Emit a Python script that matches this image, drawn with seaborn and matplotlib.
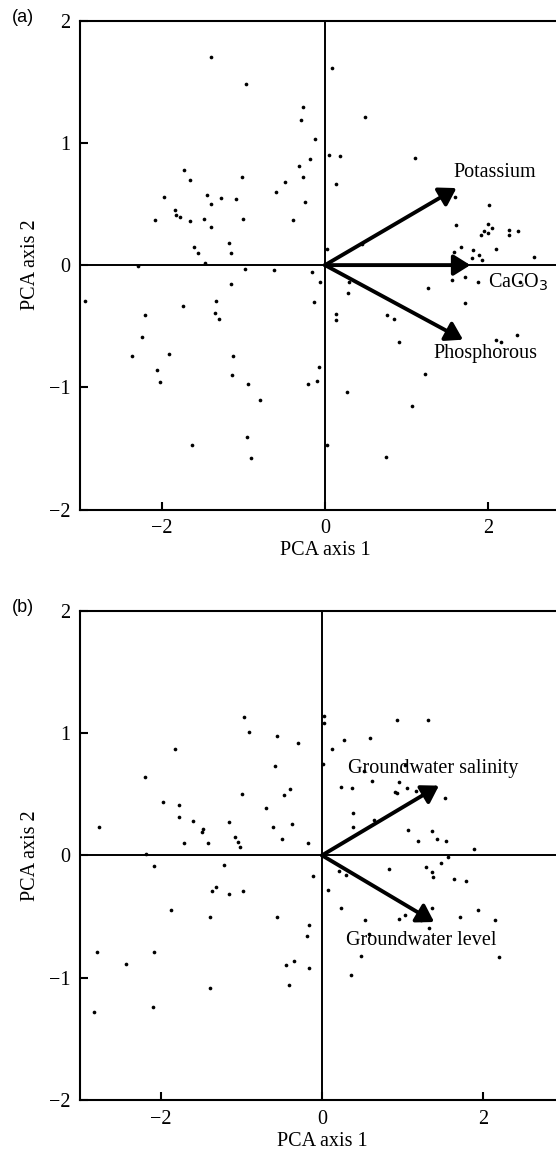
import numpy as np
import pandas as pd
import matplotlib.pyplot as plt
import seaborn as sns

# ---- panel (a): site scores and soil vectors ------------------------------
a_pc1 = [-1.40, -0.97, -0.27, -0.29, -0.12, 0.05, -0.32, -0.18, -0.27, -0.49,
         -0.60, -0.25, -0.39, -1.02, -1.09, -1.01, -1.27, -1.45, -1.40, -1.48,
         -1.40, -1.73, -1.65, -1.65, -1.78, -1.83, -1.84, -1.97, -2.08, -1.61,
         -1.56, -1.47, -1.18, -1.15, -2.29, -0.98, -0.62, -0.16, 0.02, 0.09,
         0.49, 0.18, 1.10, 0.14, 1.59, 2.01, 1.61, 1.99, 2.05, 1.95,
         1.91, 2.00, 2.25, 2.25, 2.36, 2.09, 1.67, 1.58, 1.81, 1.80,
         1.88, 1.92, 2.56, 0.45, -0.06, -0.13, 0.30, 0.28, 0.13, 0.13,
         0.76, 0.84, 0.91, 1.26, 1.55, 1.72, 1.87, 1.72, 2.39, 2.10,
         2.16, 2.35, 1.22, -0.07, -0.21, -0.10, 0.27, 1.06, 0.02, 0.75,
         -2.94, -1.74, -2.21, -2.24, -2.36, -1.91, -2.06, -2.02, -1.63, -1.34,
         -1.35, -1.30, -1.15, -1.13, -1.14, -0.94, -0.80, -0.95, -0.91]
a_pc2 = [1.70, 1.48, 1.29, 1.19, 1.03, 0.90, 0.81, 0.87, 0.72, 0.68,
         0.60, 0.52, 0.37, 0.72, 0.54, 0.38, 0.55, 0.57, 0.50, 0.38,
         0.31, 0.78, 0.70, 0.36, 0.39, 0.41, 0.45, 0.56, 0.37, 0.15,
         0.10, 0.02, 0.18, 0.10, -0.01, -0.035, -0.04, -0.06, 0.13, 1.61,
         1.21, 0.89, 0.88, 0.66, 0.56, 0.49, 0.33, 0.335, 0.30, 0.28,
         0.25, 0.26, 0.29, 0.25, 0.28, 0.13, 0.15, 0.11, 0.12, 0.06,
         0.08, 0.04, 0.065, 0.17, -0.14, -0.30, -0.14, -0.23, -0.40, -0.45,
         -0.41, -0.44, -0.63, -0.19, -0.12, -0.10, -0.14, -0.31, -0.14, -0.61,
         -0.63, -0.575, -0.89, -0.83, -0.97, -0.95, -1.04, -1.15, -1.47, -1.57,
         -0.29, -0.335, -0.41, -0.59, -0.74, -0.73, -0.86, -0.96, -1.47, -0.29,
         -0.39, -0.44, -0.155, -0.74, -0.90, -0.97, -1.10, -1.41, -1.58]
a_vec_names = ["Potassium", "CaCO$_3$", "Phosphorous"]
a_vec_x = [1.61, 1.78, 1.69]
a_vec_y = [0.63, 0.0, -0.61]
a_lab_x = [1.57, 1.99, 1.33]
a_lab_y = [0.76, -0.14, -0.72]

# ---- panel (b): site scores and groundwater vectors -----------------------
b_pc1 = [-2.77, -2.20, -1.82, -1.97, -1.77, -1.77, -1.60, -1.47, -1.49, -1.71,
         -1.41, -1.15, -1.08, -1.04, -1.02, -0.97, -0.90, -0.99, -0.56, -0.30,
         -0.58, -0.40, -0.47, -0.70, -0.61, -0.37, -0.50, -0.17, 0.02, 0.02,
         0.01, -2.18, -2.08, -1.21, 0.93, 1.31, 0.27, 0.12, 0.59, 0.52,
         1.03, 0.62, 0.24, 0.37, 0.96, 0.91, 0.93, 1.05, 1.17, 1.52,
         0.38, 0.38, 0.65, 1.06, 1.36, 1.19, 1.43, 1.54, 1.88, 1.56,
         1.47, 1.29, 0.83, 1.36, 1.38, 0.21, 0.30, -0.11, 0.08, 1.64,
         1.79, 0.24, 0.53, 0.96, 1.03, 1.25, 1.36, 1.23, 1.33, 1.71,
         1.94, 2.14, 2.19, 0.48, 0.36, 0.58, -0.16, -0.19, -0.16, -0.35,
         -0.45, -0.41, -2.79, -2.83, -2.43, -2.08, -2.09, -1.87, -1.39, -1.39,
         -1.36, -1.31, -1.15, -0.98, -0.56]
b_pc2 = [0.23, 0.64, 0.87, 0.44, 0.41, 0.31, 0.28, 0.215, 0.19, 0.10,
         0.10, 0.27, 0.15, 0.11, 0.07, 1.13, 1.01, 0.50, 0.975, 0.92,
         0.73, 0.54, 0.49, 0.39, 0.23, 0.26, 0.13, 0.10, 1.14, 1.08,
         0.75, 0.015, -0.09, -0.08, 1.11, 1.11, 0.94, 0.87, 0.96, 0.69,
         0.74, 0.61, 0.56, 0.55, 0.60, 0.52, 0.51, 0.55, 0.53, 0.47,
         0.35, 0.23, 0.29, 0.21, 0.20, 0.12, 0.13, 0.12, 0.05, -0.01,
         -0.06, -0.095, -0.11, -0.14, -0.18, -0.13, -0.16, -0.17, -0.28, -0.19,
         -0.21, -0.43, -0.53, -0.52, -0.49, -0.42, -0.43, -0.53, -0.59, -0.50,
         -0.45, -0.53, -0.83, -0.82, -0.98, -0.64, -0.57, -0.66, -0.92, -0.86,
         -0.90, -1.06, -0.79, -1.28, -0.89, -0.79, -1.24, -0.45, -0.50, -1.085,
         -0.29, -0.26, -0.32, -0.29, -0.50]
b_vec_names = ["Groundwater salinity", "Groundwater level"]
b_vec_x = [1.45, 1.39]
b_vec_y = [0.57, -0.545]
b_lab_x = [0.32, 0.30]
b_lab_y = [0.71, -0.70]

sns.set_style("ticks")
plt.rcParams["font.family"] = ["Liberation Serif", "DejaVu Serif"]
plt.rcParams["axes.unicode_minus"] = True
plt.rcParams.update({
    "text.color": "black", "axes.labelcolor": "black",
    "xtick.color": "black", "ytick.color": "black",
    "axes.edgecolor": "black",
})

W, H = 556, 1162
fig = plt.figure(figsize=(W / 100, H / 100), dpi=100)
ax_a = fig.add_axes([80 / W, 1 - 509.6 / H, 490 / W, 489 / H])
ax_b = fig.add_axes([80 / W, 1 - 1100 / H, 484 / W, 489.3 / H])


def draw_panel(ax, pc1, pc2, vx, vy, names, lx, ly, tag, tag_y):
    pts = pd.DataFrame({"PCA axis 1": pc1, "PCA axis 2": pc2})
    ax.axhline(0, color="black", lw=1.4, zorder=1)
    ax.axvline(0, color="black", lw=1.4, zorder=1)
    sns.scatterplot(data=pts, x="PCA axis 1", y="PCA axis 2", ax=ax,
                    color="black", s=7, linewidth=0, zorder=3)
    for x, y, name, tx, ty in zip(vx, vy, names, lx, ly):
        ax.annotate("", xy=(x, y), xytext=(0, 0),
                    arrowprops=dict(arrowstyle="-|>,head_length=0.4,head_width=0.25",
                                    color="black", lw=2.8,
                                    mutation_scale=25, shrinkA=0, shrinkB=0),
                    zorder=4)
        ax.text(tx, ty, name, fontsize=14.5, ha="left", va="center", zorder=5)
    ax.set_xlim(-3, 3)
    ax.set_ylim(-2, 2)
    ax.set_xticks([-2, 0, 2])
    ax.set_yticks([-2, -1, 0, 1, 2])
    ax.tick_params(direction="in", length=6, width=1.5, labelsize=14.5, pad=7)
    ax.set_xlabel("PCA axis 1", fontsize=14.5, labelpad=2)
    ax.set_ylabel("PCA axis 2", fontsize=14.5, labelpad=6)
    for s in ax.spines.values():
        s.set_linewidth(1.5)
    fig.text(12 / W, 1 - tag_y / H, tag, fontsize=13, ha="left", va="center",
             family=["Liberation Sans", "DejaVu Sans"])


draw_panel(ax_a, a_pc1, a_pc2, a_vec_x, a_vec_y, a_vec_names,
           a_lab_x, a_lab_y, "(a)", 18)
draw_panel(ax_b, b_pc1, b_pc2, b_vec_x, b_vec_y, b_vec_names,
           b_lab_x, b_lab_y, "(b)", 608)

fig.savefig("out.png", dpi=100)
